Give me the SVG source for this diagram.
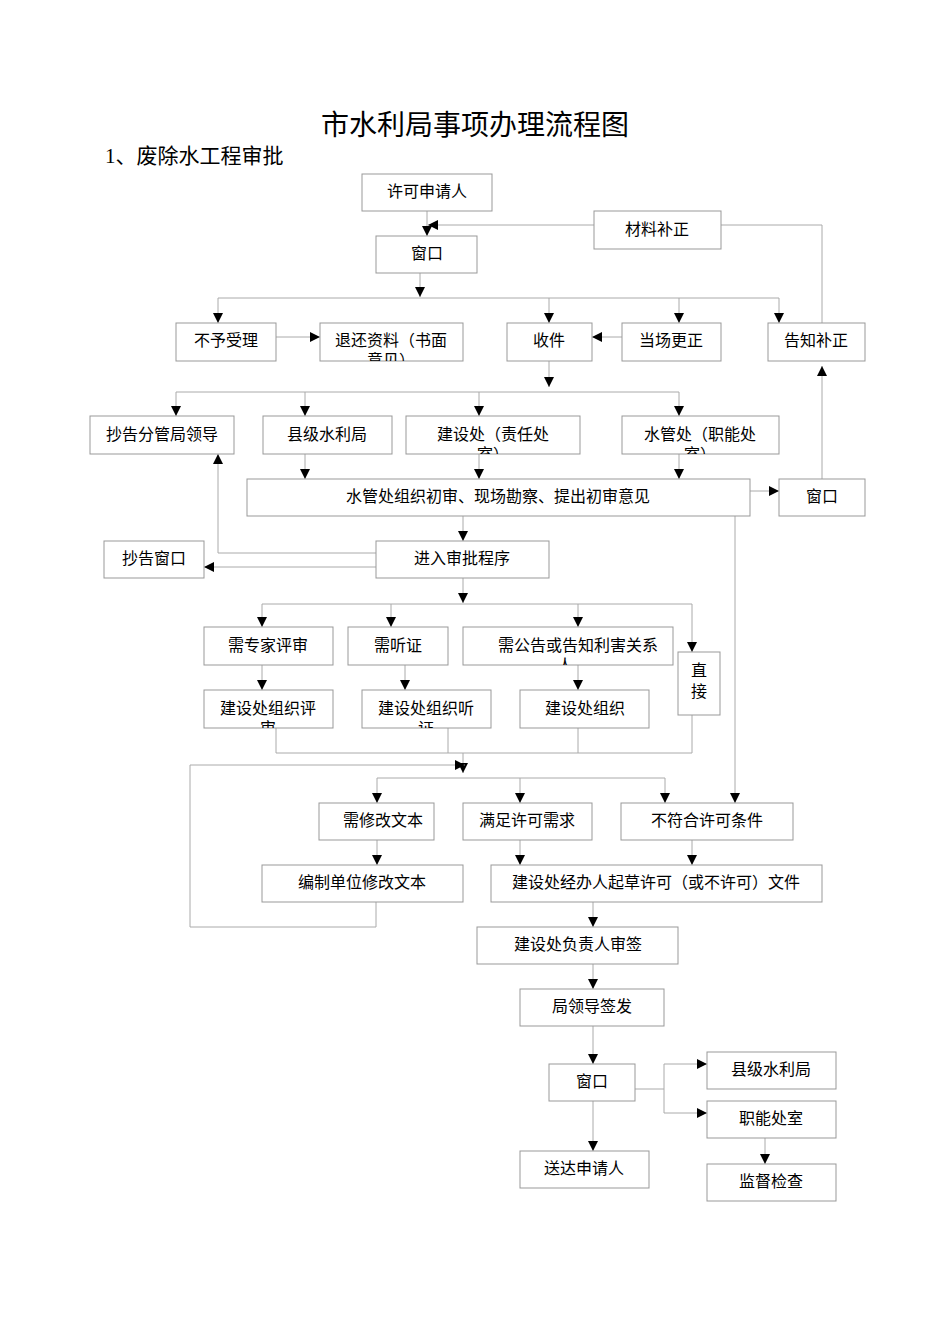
<svg xmlns="http://www.w3.org/2000/svg" width="950" height="1344" viewBox="0 0 950 1344">
<style>
.b{fill:#fff;stroke:#999;stroke-width:1}
.t{font-family:"Liberation Serif","Noto Sans CJK SC",serif;font-size:16px;fill:#000;text-anchor:middle}
.l{fill:none;stroke:#aaa;stroke-width:1}
.a{fill:none;stroke:#aaa;stroke-width:1;marker-end:url(#m)}
</style>
<defs>
<marker id="m" viewBox="0 0 10 10" refX="10" refY="5" markerWidth="10" markerHeight="10" markerUnits="userSpaceOnUse" orient="auto"><path d="M0,0L10,5L0,10z" fill="#000"/></marker>
<clipPath id="c1"><rect x="320" y="323" width="143" height="38"/></clipPath>
<clipPath id="c2"><rect x="406" y="416" width="174" height="38"/></clipPath>
<clipPath id="c3"><rect x="622" y="416" width="157" height="38"/></clipPath>
<clipPath id="c4"><rect x="463" y="627" width="210" height="38"/></clipPath>
<clipPath id="c5"><rect x="204" y="690" width="129" height="38"/></clipPath>
<clipPath id="c6"><rect x="362" y="690" width="129" height="38"/></clipPath>
</defs>
<rect width="950" height="1344" fill="#fff"/>
<text x="475" y="135" font-family="'Noto Sans CJK SC',sans-serif" font-size="28" text-anchor="middle">市水利局事项办理流程图</text>
<text x="105" y="163" font-family="'Liberation Serif','Noto Sans CJK SC',serif" font-size="21">1、废除水工程审批</text>
<g id="connectors">
<path class="a" d="M427,211V236"/>
<path class="a" d="M594,225H428"/>
<path class="l" d="M721,225H822V323"/>
<path class="a" d="M420,273V297"/>
<path class="l" d="M218,298H779"/>
<path class="a" d="M218,298V323"/><path class="a" d="M549,298V323"/><path class="a" d="M679,298V323"/><path class="a" d="M779,298V323"/>
<path class="a" d="M276,337H320"/>
<path class="a" d="M622,337H592"/>
<path class="a" d="M549,361V387"/>
<path class="l" d="M176,392H679"/>
<path class="a" d="M176,392V416"/><path class="a" d="M305,392V416"/><path class="a" d="M479,392V416"/><path class="a" d="M679,392V416"/>
<path class="a" d="M305,454V479"/><path class="a" d="M479,454V479"/><path class="a" d="M679,454V479"/>
<path class="a" d="M750,491H779"/>
<path class="a" d="M822,479V366"/>
<path class="a" d="M735,516V803"/>
<path class="a" d="M463,516V541"/>
<path class="a" d="M376,553H218V454"/>
<path class="a" d="M376,567H204"/>
<path class="a" d="M463,578V603"/>
<path class="l" d="M262,604H692"/>
<path class="a" d="M262,604V627"/><path class="a" d="M391,604V627"/><path class="a" d="M578,604V627"/><path class="a" d="M692,604V652"/>
<path class="a" d="M262,665V690"/><path class="a" d="M405,665V690"/><path class="a" d="M578,665V690"/>
<path class="l" d="M276,728V753H692V715"/><path class="l" d="M448,728V753"/><path class="l" d="M578,728V753"/>
<path class="a" d="M463,753V773"/>
<path class="a" d="M376,902V927H190V765H465"/>
<path class="l" d="M377,778H665"/>
<path class="a" d="M377,778V803"/><path class="a" d="M520,778V803"/><path class="a" d="M665,778V803"/>
<path class="a" d="M377,840V865"/><path class="a" d="M520,840V865"/><path class="a" d="M692,840V865"/>
<path class="a" d="M593,902V927"/>
<path class="a" d="M593,964V989"/>
<path class="a" d="M593,1026V1064"/>
<path class="a" d="M593,1101V1151"/>
<path class="l" d="M635,1089H664"/><path class="l" d="M664,1064V1113"/>
<path class="a" d="M664,1064H707"/><path class="a" d="M664,1113H707"/>
<path class="a" d="M765,1138V1164"/>
</g>
<g id="n1"><rect class="b" x="362" y="174" width="130" height="37"/><text class="t" x="427" y="197">许可申请人</text></g>
<g id="n2"><rect class="b" x="376" y="236" width="101" height="37"/><text class="t" x="427" y="259">窗口</text></g>
<g id="n3"><rect class="b" x="594" y="211" width="127" height="38"/><text class="t" x="657" y="235">材料补正</text></g>
<g id="n4"><rect class="b" x="176" y="323" width="100" height="38"/><text class="t" x="226" y="346">不予受理</text></g>
<g id="n5"><rect class="b" x="320" y="323" width="143" height="38"/><text class="t" clip-path="url(#c1)" x="391" y="346">退还资料（书面<tspan x="391" dy="20">意见）</tspan></text></g>
<g id="n6"><rect class="b" x="507" y="323" width="85" height="38"/><text class="t" x="549" y="346">收件</text></g>
<g id="n7"><rect class="b" x="622" y="323" width="99" height="38"/><text class="t" x="671" y="346">当场更正</text></g>
<g id="n8"><rect class="b" x="768" y="323" width="97" height="38"/><text class="t" x="816" y="346">告知补正</text></g>
<g id="n9"><rect class="b" x="90" y="416" width="144" height="38"/><text class="t" x="162" y="440">抄告分管局领导</text></g>
<g id="n10"><rect class="b" x="263" y="416" width="129" height="38"/><text class="t" x="327" y="440">县级水利局</text></g>
<g id="n11"><rect class="b" x="406" y="416" width="174" height="38"/><text class="t" clip-path="url(#c2)" x="493" y="440">建设处（责任处<tspan x="493" dy="20">室）</tspan></text></g>
<g id="n12"><rect class="b" x="622" y="416" width="157" height="38"/><text class="t" clip-path="url(#c3)" x="700" y="440">水管处（职能处<tspan x="700" dy="20">室）</tspan></text></g>
<g id="n13"><rect class="b" x="247" y="479" width="503" height="37"/><text class="t" x="498" y="502">水管处组织初审、现场勘察、提出初审意见</text></g>
<g id="n14"><rect class="b" x="779" y="479" width="86" height="37"/><text class="t" x="822" y="502">窗口</text></g>
<g id="n15"><rect class="b" x="376" y="541" width="173" height="37"/><text class="t" x="462" y="564">进入审批程序</text></g>
<g id="n16"><rect class="b" x="104" y="541" width="100" height="37"/><text class="t" x="154" y="564">抄告窗口</text></g>
<g id="n17"><rect class="b" x="204" y="627" width="129" height="38"/><text class="t" x="268" y="651">需专家评审</text></g>
<g id="n18"><rect class="b" x="348" y="627" width="100" height="38"/><text class="t" x="398" y="651">需听证</text></g>
<g id="n19"><rect class="b" x="463" y="627" width="210" height="38"/><text class="t" clip-path="url(#c4)" x="578" y="651">需公告或告知利害关系<tspan x="565" dy="20">人</tspan></text></g>
<g id="n20"><rect class="b" x="678" y="652" width="42" height="63"/><text class="t" x="699" y="676">直</text><text class="t" x="699" y="697">接</text></g>
<g id="n21"><rect class="b" x="204" y="690" width="129" height="38"/><text class="t" clip-path="url(#c5)" x="268" y="714">建设处组织评<tspan x="268" dy="20">审</tspan></text></g>
<g id="n22"><rect class="b" x="362" y="690" width="129" height="38"/><text class="t" clip-path="url(#c6)" x="426" y="714">建设处组织听<tspan x="426" dy="20">证</tspan></text></g>
<g id="n23"><rect class="b" x="520" y="690" width="129" height="38"/><text class="t" x="585" y="714">建设处组织</text></g>
<g id="n24"><rect class="b" x="319" y="803" width="115" height="37"/><text class="t" x="383" y="826">需修改文本</text></g>
<g id="n25"><rect class="b" x="463" y="803" width="129" height="37"/><text class="t" x="527" y="826">满足许可需求</text></g>
<g id="n26"><rect class="b" x="621" y="803" width="172" height="37"/><text class="t" x="707" y="826">不符合许可条件</text></g>
<g id="n27"><rect class="b" x="262" y="865" width="201" height="37"/><text class="t" x="362" y="888">编制单位修改文本</text></g>
<g id="n28"><rect class="b" x="491" y="865" width="331" height="37"/><text class="t" x="656" y="888">建设处经办人起草许可（或不许可）文件</text></g>
<g id="n29"><rect class="b" x="477" y="927" width="201" height="37"/><text class="t" x="578" y="950">建设处负责人审签</text></g>
<g id="n30"><rect class="b" x="520" y="989" width="144" height="37"/><text class="t" x="592" y="1012">局领导签发</text></g>
<g id="n31"><rect class="b" x="549" y="1064" width="86" height="37"/><text class="t" x="592" y="1087">窗口</text></g>
<g id="n32"><rect class="b" x="707" y="1052" width="129" height="37"/><text class="t" x="771" y="1075">县级水利局</text></g>
<g id="n33"><rect class="b" x="707" y="1101" width="129" height="37"/><text class="t" x="771" y="1124">职能处室</text></g>
<g id="n34"><rect class="b" x="707" y="1164" width="129" height="37"/><text class="t" x="771" y="1187">监督检查</text></g>
<g id="n35"><rect class="b" x="520" y="1151" width="129" height="37"/><text class="t" x="584" y="1174">送达申请人</text></g>
</svg>
